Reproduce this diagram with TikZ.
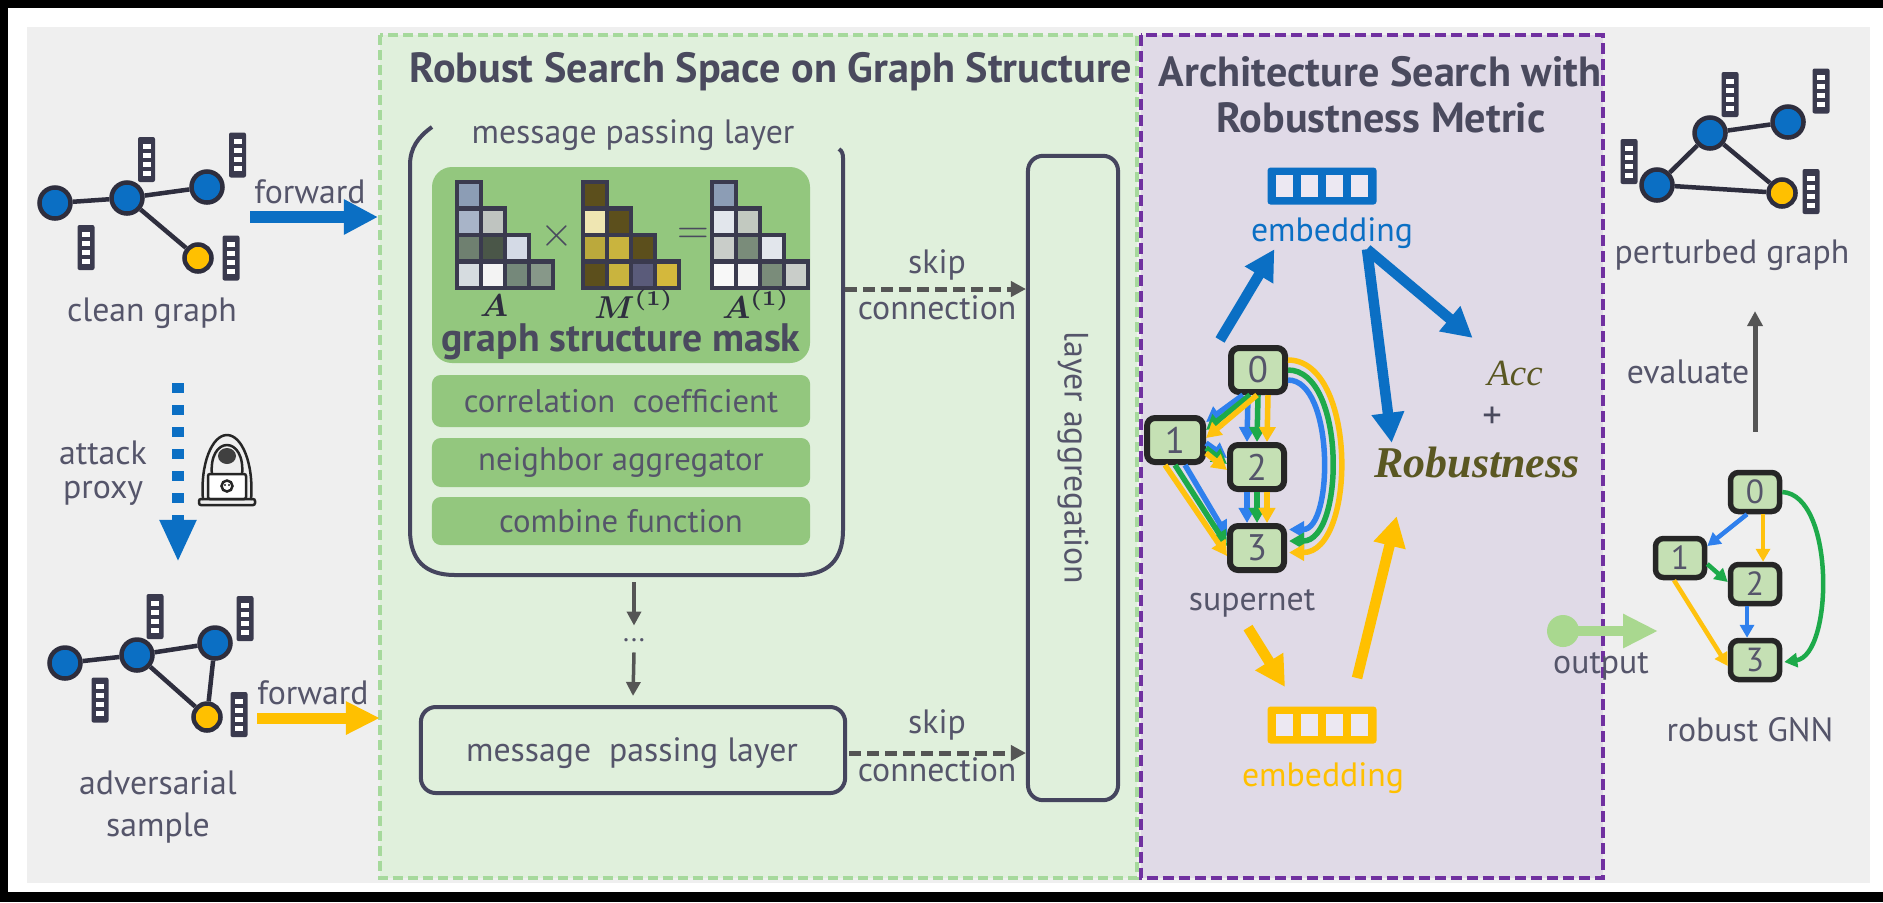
\documentclass[tikz,border=0pt]{standalone}
\usepackage{fontspec}
\setmainfont{PT Sans}
\newfontfamily\serifface{Liberation Serif}
\usepackage{bm}
\usetikzlibrary{arrows.meta,calc}

\definecolor{txt}{HTML}{55556A}
\definecolor{tdark}{HTML}{4A4A5E}
\definecolor{dark}{HTML}{2E2E3E}
\definecolor{ldark}{HTML}{45455E}
\definecolor{mdark}{HTML}{3A3A4E}
\definecolor{nblue}{HTML}{0B6FC4}
\definecolor{nyellow}{HTML}{FFC000}
\definecolor{panel}{HTML}{EFEFEF}
\definecolor{sfill}{HTML}{E0F0DC}
\definecolor{sborder}{HTML}{A6D99C}
\definecolor{pfill}{HTML}{E0DAE7}
\definecolor{pborder}{HTML}{7030A0}
\definecolor{gbox}{HTML}{93C77E}
\definecolor{nodegreen}{HTML}{C5E0B4}
\definecolor{ablue}{HTML}{2F80ED}
\definecolor{agreen}{HTML}{1DAA4A}
\definecolor{ayellow}{HTML}{FFC20E}
\definecolor{olive}{HTML}{5A5722}
\definecolor{outgreen}{HTML}{A9D88F}
\definecolor{agray}{HTML}{555555}
\definecolor{iconlight}{HTML}{ECE8F2}
% matrix cell colours
\definecolor{ma}{HTML}{8C9DB5}
\definecolor{mb}{HTML}{A8B4C8}
\definecolor{mc}{HTML}{BFC4C0}
\definecolor{md}{HTML}{6F8070}
\definecolor{me}{HTML}{4A5648}
\definecolor{mf}{HTML}{D4DAE6}
\definecolor{mg}{HTML}{D6DCE0}
\definecolor{mh}{HTML}{F3F3F3}
\definecolor{mi}{HTML}{75887A}
\definecolor{mj}{HTML}{879889}
\definecolor{oa}{HTML}{5C4F1C}
\definecolor{ob}{HTML}{EFE6B2}
\definecolor{oc}{HTML}{BBA93C}
\definecolor{od}{HTML}{C9B43E}
\definecolor{oe}{HTML}{5A5B7A}
\definecolor{of}{HTML}{D4B83C}
\definecolor{ra}{HTML}{E2E6EC}
\definecolor{rb}{HTML}{C2C9C0}
\definecolor{rc}{HTML}{C9CDC9}
\definecolor{rd}{HTML}{7A8C7A}
\definecolor{re}{HTML}{F8F8F8}

% lower-triangular 4x4 matrix: #1,#2 top-left corner, #3 list row/col/colour
\newcommand{\trimat}[3]{%
  \foreach \r/\c/\cc in {#3}{%
    \filldraw[fill=\cc, draw=mdark, line width=0.042cm]
      ({#1+\c*24},{#2+\r*26.5}) rectangle ++(24,26.5);
  }%
}

\tikzset{
  lbl/.style={text=txt, inner sep=0pt, font=\fontsize{9.6pt}{11pt}\selectfont},
  boxlbl/.style={text=txt, inner sep=0pt, font=\fontsize{9.3pt}{11pt}\selectfont},
  title/.style={text=tdark, inner sep=0pt, font=\fontsize{12pt}{14pt}\selectfont\bfseries},
  gnode/.style={circle, draw=dark, line width=0.045cm, fill=nblue, minimum size=0.31cm, inner sep=0pt},
  ynode/.style={gnode, fill=nyellow, minimum size=0.27cm},
  gedge/.style={draw=dark, line width=0.045cm},
  featbar/.pic={
    \fill[mdark, rounded corners=0.02cm] (-8.5,-22.5) rectangle (8.5,22.5);
    \foreach \k in {0,...,3}{\fill[white] (-4,{-16+\k*9}) rectangle ++(8,5);}
  },
  embicon/.pic={
    \fill[pic actions, rounded corners=0.03cm] (-54.5,-18.5) rectangle (54.5,18.5);
    \foreach \k in {0,...,3}{\fill[iconlight] ({-46+\k*25},-11) rectangle ++(17,22);}
  },
  optbox/.style={fill=gbox, rounded corners=0.09cm, minimum width=3.78cm, inner sep=0pt},
  snode/.style={draw=black!85, fill=nodegreen, line width=0.06cm, rounded corners=0.08cm,
    minimum width=0.54cm, minimum height=0.44cm, inner sep=0pt,
    font=\fontsize{10.5pt}{12pt}\selectfont, text=txt},
  rnode/.style={snode, minimum width=0.49cm, minimum height=0.39cm, line width=0.055cm,
    font=\fontsize{9.5pt}{11pt}\selectfont},
  bigarrow/.style={line width=0.105cm, -{Triangle[length=0.3cm,width=0.31cm]}},
  sarr/.style={line width=0.055cm, -{Triangle[length=0.15cm,width=0.16cm]}},
  rarr/.style={line width=0.045cm, -{Triangle[length=0.13cm,width=0.14cm]}},
  grayarrow/.style={draw=agray, line width=0.035cm, -{Triangle[length=0.14cm,width=0.14cm]}},
  skiparrow/.style={draw=agray, line width=0.05cm, dash pattern=on 0.12cm off 0.06cm,
    -{Triangle[length=0.15cm,width=0.15cm]}},
  frame/.style={draw=ldark, line width=0.04cm}
}

\begin{document}
\begin{tikzpicture}[x=0.01cm, y=-0.01cm]
% canvas
\fill[black] (0,0) rectangle (1883,902);
\fill[white] (8,8) rectangle (1883,892);
\fill[panel] (27,27) rectangle (1870,883);
\useasboundingbox (0,0) rectangle (1883,902);

% the two dashed regions
\filldraw[fill=sfill, draw=sborder, line width=0.035cm, dash pattern=on 0.1cm off 0.05cm]
  (380,35) rectangle (1137,878);
\filldraw[fill=pfill, draw=pborder, line width=0.04cm, dash pattern=on 0.11cm off 0.05cm]
  (1141,35) rectangle (1603,878);

\node[title] (t1) at (771,72) {Robust Search Space on Graph Structure};
\node[title] (t2a) at (1380,72) {Architecture Search with};
\node[title] (t2b) at (1381,118) {Robustness Metric};

% ---------------- clean graph ----------------
\pic at (146.5,159.5) {featbar};
\pic at (237.5,155) {featbar};
\pic at (86,247.5) {featbar};
\pic at (231,258) {featbar};
\node[gnode] (cA) at (55,203) {};
\node[gnode] (cB) at (127,198) {};
\node[gnode] (cC) at (207,187) {};
\node[ynode] (cD) at (198,258) {};
\draw[gedge] (cA) -- (cB);
\draw[gedge] (cB) -- (cC);
\draw[gedge] (cB) -- (cD);
\node[lbl] (clean) at (152,313) {clean graph};

\node[lbl] (fw1) at (310,192) {forward};
\coordinate (fw1s) at (250,217);
\coordinate (fw1e) at (378,217);
\draw[bigarrow, nblue, line width=0.125cm, -{Triangle[length=0.34cm,width=0.33cm]}] (fw1s) -- (fw1e);

% attack proxy
\coordinate (atk1) at (178,383);
\coordinate (atk2) at (178,562);
\draw[nblue, line width=0.12cm, dash pattern=on 0.1cm off 0.12cm,
  -{Triangle[length=0.42cm,width=0.34cm]}] (atk1) -- (atk2);
\node[lbl] (attack) at (103,453) {attack};
\node[lbl] (proxy) at (103,493) {proxy};

% hooded attacker with laptop
\begin{scope}[shift={(227,470)}, line width=0.025cm, black!85]
  \draw (-24,30) .. controls (-27,-6) and (-15,-35) .. (0,-35)
        .. controls (15,-35) and (27,-6) .. (24,30);
  \draw (-15,5) .. controls (-17,-14) and (-9,-25) .. (0,-25)
        .. controls (9,-25) and (17,-14) .. (15,5);
  \fill[black!75] (0,-14) ellipse [x radius=9, y radius=8];
  \filldraw[fill=white, rounded corners=0.02cm] (-19,4) rectangle (19,29);
  \draw (0,16) circle [radius=5.5];
  \fill (-2,15) circle [radius=1.2];
  \fill (2,15) circle [radius=1.2];
  \draw[rounded corners=0.02cm] (-28,29) rectangle (28,35);
\end{scope}

% ---------------- adversarial sample ----------------
\pic at (155,616.5) {featbar};
\pic at (245,618.5) {featbar};
\pic at (100,700) {featbar};
\pic at (239,714.5) {featbar};
\node[gnode] (aA) at (65,663) {};
\node[gnode] (aB) at (137,655) {};
\node[gnode] (aC) at (215,643) {};
\node[ynode] (aD) at (207,717) {};
\draw[gedge] (aA) -- (aB);
\draw[gedge] (aB) -- (aC);
\draw[gedge] (aB) -- (aD);
\draw[gedge] (aC) -- (aD);
\node[lbl] (adv1) at (158,783) {adversarial};
\node[lbl] (adv2) at (158,828) {sample};

\node[lbl] (fw2) at (313,693) {forward};
\coordinate (fw2s) at (257,718);
\coordinate (fw2e) at (380,718);
\draw[bigarrow, nyellow, line width=0.11cm, -{Triangle[length=0.34cm,width=0.31cm]}] (fw2s) -- (fw2e);

% ---------------- search space ----------------
% open container of the first message passing layer
\draw[frame] (432,127) .. controls (418,137) and (410,148) .. (410,165)
  -- (410,530) .. controls (410,560) and (425,575) .. (455,575)
  -- (798,575) .. controls (828,575) and (843,560) .. (843,530)
  -- (843,158) .. controls (843,154) and (842,151) .. (839,149);
\coordinate (uskip) at (845,289);
\coordinate (ubot) at (634,578);
\node[lbl] (mpl1) at (633,135) {message passing layer};

\fill[gbox, rounded corners=0.2cm] (432,167) rectangle (810,363);
\trimat{457}{182}{0/0/ma, 1/0/mb, 1/1/mc, 2/0/md, 2/1/me, 2/2/mf, 3/0/mg, 3/1/mh, 3/2/mi, 3/3/mj}
\trimat{583}{182}{0/0/oa, 1/0/ob, 1/1/oa, 2/0/oc, 2/1/od, 2/2/oa, 3/0/oa, 3/1/od, 3/2/oe, 3/3/of}
\trimat{712}{182}{0/0/ma, 1/0/ra, 1/1/rb, 2/0/rc, 2/1/rd, 2/2/ra, 3/0/re, 3/1/mh, 3/2/rd, 3/3/rc}
\node[text=tdark, font=\fontsize{13pt}{13pt}\selectfont] (times) at (557,236) {$\times$};
\node[text=tdark, font=\fontsize{13pt}{13pt}\selectfont] (eq) at (693,236) {$=$};
\node[text=dark, inner sep=0pt, font=\fontsize{9pt}{10pt}\selectfont] (lA) at (494,306) {$\bm{A}$};
\node[text=dark, inner sep=0pt, font=\fontsize{9pt}{10pt}\selectfont] (lM) at (634,304) {$\bm{M^{(1)}}$};
\node[text=dark, inner sep=0pt, font=\fontsize{9pt}{10pt}\selectfont] (lA1) at (756,304) {$\bm{A^{(1)}}$};
\node[text=tdark, inner sep=0pt, font=\fontsize{11.3pt}{13pt}\selectfont\bfseries] (gsm) at (621,342) {graph structure mask};

\node[optbox, minimum height=0.52cm] (corr) at (621,401) {};
\node[boxlbl] at (corr) {correlation\ \ coefficient};
\node[optbox, minimum height=0.49cm] (neigh) at (621,462.5) {};
\node[boxlbl] at (neigh) {neighbor aggregator};
\node[optbox, minimum height=0.48cm] (comb) at (621,521) {};
\node[boxlbl] at (comb) {combine function};

\node[lbl, font=\fontsize{8pt}{9pt}\selectfont] (dots) at (634,640) {...};
\draw[grayarrow] ($(ubot)+(0,4)$) -- ($(dots.north)+(0,-12)$);
\node[frame, rounded corners=0.15cm, minimum width=4.24cm, minimum height=0.86cm] (mp2) at (633,750) {};
\node[lbl] at (632,753) {message\ \ passing layer};
\draw[grayarrow] ($(dots.south)+(0,10)$) -- ($(mp2.north)+(0,-9)$);

\node[frame, rounded corners=0.15cm, minimum width=0.9cm, minimum height=6.44cm] (lagg) at (1073,478) {};
\node[lbl, rotate=-90] at (1073,458) {layer aggregation};

\draw[skiparrow] (uskip) -- (uskip -| lagg.west);
\draw[skiparrow] ($(mp2.east)+(2,3)$) -- ($(mp2.east -| lagg.west)+(0,3)$);
\node[lbl] at (937,265) {skip};
\node[lbl] at (937,308) {connection};
\node[lbl] at (937,725) {skip};
\node[lbl] at (937,770) {connection};

% ---------------- architecture search ----------------
\coordinate (embB) at (1322,186);
\coordinate (embY) at (1322,725);
\pic[fill=nblue] at (embB) {embicon};
\node[lbl, text=nblue] (embBl) at (1332,233) {embedding};
\pic[fill=nyellow] at (embY) {embicon};
\node[lbl, text=nyellow] (embYl) at (1323,778) {embedding};

\node[snode] (s0) at (1258,370) {0};
\node[snode, minimum width=0.56cm] (s1) at (1175,440) {1};
\node[snode] (s2) at (1257,467) {2};
\node[snode] (s3) at (1257,548) {3};
\node[lbl] (supernet) at (1252,603) {supernet};

\foreach \cc/\k in {ablue/-1, agreen/0, ayellow/1}{
  \draw[sarr, \cc] ($(s0.south)+({\k*10},0)$) -- ($(s2.north)+({\k*10},0)$);
  \draw[sarr, \cc] ($(s2.south)+({\k*10},0)$) -- ($(s3.north)+({\k*10},0)$);
  \draw[sarr, \cc] ($(s0.south)+({-8+\k*7},0)$) -- ($(s1.east)+(0,{-10+\k*8})$);
  \draw[sarr, \cc] ($(s1.east)+(0,{8+\k*5})$) -- ($(s2.west)+(0,{-3+\k*6})$);
  \draw[sarr, \cc] ($(s1.south)+({-10*\k},0)$) -- ($(s3.west)+(0,{10*\k-2})$);
  \draw[sarr, \cc] ($(s0.east)+(0,{-10*\k})$)
     .. controls ($(s0.east)+({58+11.5*\k},{-10*\k})$) and ($(s3.east)+({58+11.5*\k},{-7+11.5*\k})$)
     .. ($(s3.east)+(2,{-7+11.5*\k})$);
}

\node[inner sep=0pt, text=olive, font=\fontsize{10.5pt}{12pt}\serifface\itshape] (acc) at (1515,373) {Acc};
\node[inner sep=0pt, text=tdark, font=\fontsize{11pt}{12pt}\selectfont] (plus) at (1492,418) {+};
\node[inner sep=0pt, text=olive, font=\fontsize{12.5pt}{14pt}\serifface\bfseries\itshape] (rob) at (1477,462) {Robustness};

\draw[bigarrow, nblue] ($(s0.north)+(-38,-5)$) -- ($(embBl.south west)+(24,0)$);
\draw[bigarrow, nblue] ($(embBl.south)+(35,0)$) -- ($(rob.north west)+(18,-3)$);
\draw[bigarrow, nblue] ($(embBl.south)+(35,0)$) -- ($(acc.north west)+(-14,-22)$);
\draw[bigarrow, nyellow] ($(supernet.south)+(-4,10)$) -- ($(embY)+(-37,-38)$);
\draw[bigarrow, nyellow] ($(embY)+(35,-47)$) -- ($(rob.south west)+(23,38)$);

% output of the search
\node[circle, fill=outgreen, minimum size=0.32cm, inner sep=0pt] (outdot) at (1563,631) {};
\node[lbl] (outl) at (1601,666) {output};

% ---------------- robust GNN ----------------
\node[rnode] (r0) at (1755,492) {0};
\node[rnode] (r1) at (1680,558) {1};
\node[rnode] (r2) at (1755,584) {2};
\node[rnode] (r3) at (1755,660) {3};
\draw[rarr, ablue] ($(r0.south)+(-8,0)$) -- ($(r1.east)+(0,-12)$);
\draw[rarr, ayellow] ($(r0.south)+(8,0)$) -- ($(r2.north)+(8,0)$);
\draw[rarr, agreen] ($(r1.east)+(0,6)$) -- ($(r2.west)+(0,-2)$);
\draw[rarr, ayellow] ($(r1.south)+(-6,0)$) -- ($(r3.west)+(0,6)$);
\draw[rarr, ablue] ($(r2.south)+(-8,0)$) -- ($(r3.north)+(-8,0)$);
\draw[rarr, agreen] (r0.east) .. controls ($(r0.east)+(53,3)$) and ($(r3.east)+(51,-5)$) .. ($(r3.east)+(2,2)$);
\node[lbl] (rgnn) at (1750,730) {robust GNN};

\draw[line width=0.1cm, outgreen, -{Triangle[length=0.35cm,width=0.32cm]}]
  (outdot.center) -- ($(outdot.center)+(95,0)$);

% ---------------- perturbed graph ----------------
\pic at (1730,94.5) {featbar};
\pic at (1821,91) {featbar};
\pic at (1629,161.5) {featbar};
\pic at (1811,191.5) {featbar};
\node[gnode] (pA) at (1657,185) {};
\node[gnode] (pB) at (1710,133) {};
\node[gnode] (pC) at (1788,122) {};
\node[ynode] (pD) at (1782,193) {};
\draw[gedge] (pA) -- (pB);
\draw[gedge] (pB) -- (pC);
\draw[gedge] (pB) -- (pD);
\draw[gedge] (pA) -- (pD);
\node[lbl] (pert) at (1732,255) {perturbed graph};

\draw[grayarrow, line width=0.05cm, -{Triangle[length=0.15cm,width=0.15cm]}]
  ($(r0.north)+(0,-38)$) -- ($(pert.south)+(23,40)$);
\node[lbl] (evalt) at (1688,372) {evaluate};
\end{tikzpicture}
\end{document}
